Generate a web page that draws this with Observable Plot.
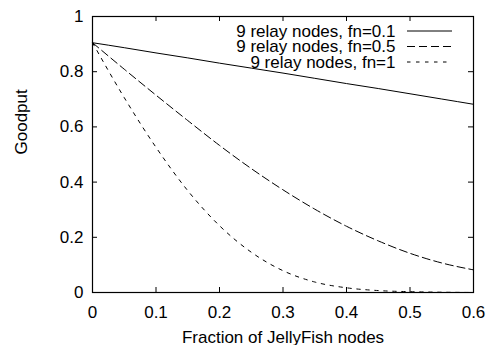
<!DOCTYPE html>
<html>
<head>
<meta charset="utf-8">
<script src="https://cdn.jsdelivr.net/npm/d3@7"></script>
<script src="https://cdn.jsdelivr.net/npm/@observablehq/plot@0.6"></script>
<style>
  html, body { margin: 0; padding: 0; background: #fff; }
</style>
</head>
<body>
<div id="chart"></div>
<script>
// ---- data ----
const fraction = [0, 0.05, 0.1, 0.15, 0.2, 0.25, 0.3, 0.35, 0.4, 0.45, 0.5, 0.55, 0.6];
const goodputFn01 = [0.905, 0.887, 0.868, 0.850, 0.831, 0.813, 0.795, 0.776, 0.757, 0.739, 0.720, 0.701, 0.682];
const goodputFn05 = [0.905, 0.809, 0.715, 0.623, 0.533, 0.449, 0.372, 0.302, 0.240, 0.187, 0.142, 0.107, 0.082];
const goodputFn1  = [0.905, 0.706, 0.526, 0.369, 0.242, 0.146, 0.079, 0.038, 0.017, 0.007, 0.003, 0.001, 0.0];
const seriesNames = ["9 relay nodes, fn=0.1", "9 relay nodes, fn=0.5", "9 relay nodes, fn=1"];
const xTicks = [0, 0.1, 0.2, 0.3, 0.4, 0.5, 0.6];
const yTicks = [0, 0.2, 0.4, 0.6, 0.8, 1];
const xLabel = "Fraction of JellyFish nodes";
const yLabel = "Goodput";

// ---- layout / style ----
const W = 498, H = 345;
const mL = 92, mR = 25, mT = 16, mB = 53;
const innerW = W - mL - mR, innerH = H - mT - mB;
const tickLen = 5;
const dashes = [null, "8,4", "3.5,5.5"];
const font = "'Liberation Sans', Arial, Helvetica, sans-serif";

const allSeries = [goodputFn01, goodputFn05, goodputFn1];
const rows = [];
allSeries.forEach((vals, s) => vals.forEach((v, i) => rows.push({series: seriesNames[s], x: fraction[i], y: v})));

const lineMarks = seriesNames.map((name, s) =>
  Plot.line(rows.filter(r => r.series === name), {
    x: "x", y: "y", stroke: "black", strokeWidth: 1,
    strokeDasharray: dashes[s], curve: "monotone-x"
  })
);

const legendText = seriesNames.map((name, s) =>
  Plot.text([name], {
    frameAnchor: "top-right", text: d => d, textAnchor: "end", lineAnchor: "middle",
    dx: -78, dy: 15 + s * 15.5, fill: "black"
  })
);

const plot = Plot.plot({
  width: W, height: H,
  marginLeft: mL, marginRight: mR, marginTop: mT, marginBottom: mB,
  style: {fontFamily: font, fontSize: "17px", background: "white", color: "black"},
  x: {domain: [0, 0.6], ticks: xTicks, tickFormat: d => String(d)},
  y: {domain: [0, 1], ticks: yTicks, tickFormat: d => String(d)},
  marks: [
    ...lineMarks,
    // inward ticks, mirrored on all sides
    Plot.tickX(xTicks, {x: d => d, insetTop: innerH - tickLen, stroke: "black"}),
    Plot.tickX(xTicks, {x: d => d, insetBottom: innerH - tickLen, stroke: "black"}),
    Plot.tickY(yTicks, {y: d => d, insetRight: innerW - tickLen, stroke: "black"}),
    Plot.tickY(yTicks, {y: d => d, insetLeft: innerW - tickLen, stroke: "black"}),
    Plot.axisX({ticks: xTicks, tickFormat: d => String(d), tickSize: 0, tickPadding: 13, label: null, fill: "black"}),
    Plot.axisY({ticks: yTicks, tickFormat: d => String(d), tickSize: 0, tickPadding: 9, label: null, fill: "black"}),
    Plot.frame({stroke: "black", strokeWidth: 1.2}),
    Plot.text([xLabel], {frameAnchor: "bottom", text: d => d, lineAnchor: "bottom", dy: 50, fill: "black"}),
    Plot.text([yLabel], {frameAnchor: "left", text: d => d, rotate: -90, lineAnchor: "middle", dx: -71, fill: "black"}),
    ...legendText
  ]
});

// legend line samples
const svg = d3.select(plot);
seriesNames.forEach((name, s) => {
  const y = mT + 15 + s * 15.5;
  svg.append("line")
    .attr("x1", W - mR - 66).attr("x2", W - mR - 21)
    .attr("y1", y).attr("y2", y)
    .attr("stroke", "black").attr("stroke-width", 1)
    .attr("stroke-dasharray", dashes[s]);
});

document.getElementById("chart").appendChild(plot);
</script>
</body>
</html>
